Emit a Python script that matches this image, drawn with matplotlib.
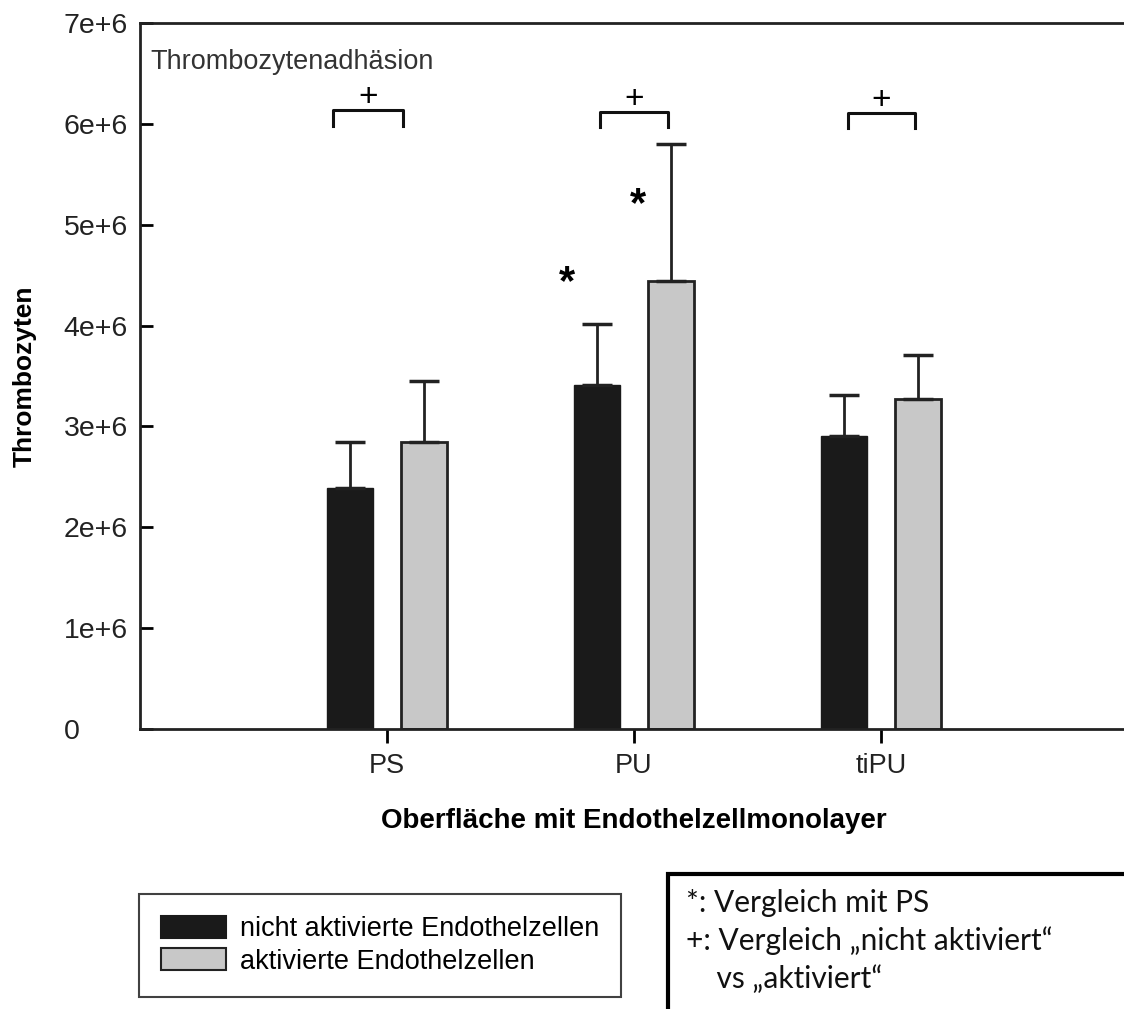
import numpy as np
import matplotlib
matplotlib.use('Agg')
import matplotlib.pyplot as plt
from matplotlib.patches import Patch, Rectangle

plt.rcParams['font.family'] = ['Liberation Sans', 'DejaVu Sans']

categories = ['PS', 'PU', 'tiPU']
nicht_akt = [2.39e6, 3.41e6, 2.91e6]
nicht_akt_err = [0.46e6, 0.61e6, 0.40e6]
aktiviert = [2.85e6, 4.44e6, 3.27e6]
aktiviert_err = [0.60e6, 1.36e6, 0.44e6]

# Klammern fuer "+" (x von, x bis, y oben, y unten)
brackets = [(0.78, 1.065, 6.14e6, 5.98e6),
            (1.862, 2.138, 6.12e6, 5.97e6),
            (2.866, 3.138, 6.11e6, 5.96e6)]
# Sternchen (Vergleich mit PS)
stars = [(1.73, 4.42e6), (2.016, 5.19e6)]

yticks = [0, 1e6, 2e6, 3e6, 4e6, 5e6, 6e6, 7e6]
ytlabels = ['0', '1e+6', '2e+6', '3e+6', '4e+6', '5e+6', '6e+6', '7e+6']

fig = plt.figure(figsize=(11.24, 10.09), dpi=100)
ax = fig.add_axes([140/1124, 1-729/1009, 988/1124, 706/1009])

x = np.arange(1, len(categories)+1)
w = 0.186
off = 0.15
ax.bar(x-off, nicht_akt, w, color='#1a1a1a', edgecolor='#1a1a1a', lw=1)
ax.bar(x+off, aktiviert, w, color='#c8c8c8', edgecolor='#222222', lw=2)
ax.errorbar(x-off, nicht_akt, yerr=[np.zeros(3), nicht_akt_err], fmt='none',
            ecolor='#222222', elinewidth=2, capsize=11, capthick=2.5)
ax.errorbar(x+off, aktiviert, yerr=[np.zeros(3), aktiviert_err], fmt='none',
            ecolor='#222222', elinewidth=2, capsize=11, capthick=2.5)

for x0, x1, yt, yb in brackets:
    ax.plot([x0, x0, x1, x1], [yb, yt, yt, yb], color='#111111', lw=2.2)
    ax.text((x0+x1)/2, yt+0.12e6, '+', ha='center', va='center', fontsize=24)
for sx, sy in stars:
    ax.text(sx, sy, '*', ha='center', va='center', fontsize=30, fontweight='bold')

ax.text(0.04, 6.61e6, 'Thrombozytenadhäsion', ha='left', va='center',
        fontsize=19.5, color='#333333')

ax.set_xlim(0, 4)
ax.set_ylim(0, 7e6)
ax.set_xticks(x)
ax.set_xticklabels(categories, fontsize=19.5, color='#222222')
ax.set_yticks(yticks)
ax.set_yticklabels(ytlabels, fontsize=20.5, color='#222222', ha='left')
ax.tick_params(axis='y', direction='in', length=9, width=2, pad=55)
ax.tick_params(axis='x', direction='out', length=10, width=2, pad=7)
for s in ax.spines.values():
    s.set_linewidth(2)
    s.set_color('#222222')

ax.set_ylabel('Thrombozyten', fontsize=19, fontweight='bold', labelpad=0)
ax.yaxis.set_label_coords(-0.105, 0.5)
ax.set_xlabel('Oberfläche mit Endothelzellmonolayer', fontsize=20,
              fontweight='bold', labelpad=21)

handles = [Patch(facecolor='#1a1a1a', edgecolor='#1a1a1a', lw=1.5),
           Patch(facecolor='#c8c8c8', edgecolor='#222222', lw=1.5)]
leg = fig.legend(handles, ['nicht aktivierte Endothelzellen', 'aktivierte Endothelzellen'],
                 loc='upper left', bbox_to_anchor=(139/1124, 1-894/1009),
                 fontsize=19.5, frameon=True, fancybox=False, edgecolor='#111111',
                 handlelength=2.4, handleheight=0.85, handletextpad=0.5,
                 labelspacing=0.22, borderpad=0.82, borderaxespad=0)
leg.get_frame().set_linewidth(1.5)

fig.patches.append(Rectangle((668/1124, -0.05), 0.5, 1-874/1009+0.05,
                             transform=fig.transFigure, fill=False,
                             edgecolor='black', lw=3))
notes = ['*: Vergleich mit PS', '+: Vergleich \u201enicht aktiviert\u201c',
         '    vs \u201eaktiviert\u201c']
for i, t in enumerate(notes):
    fig.text(686/1124, 1-(903+38*i)/1009, t, ha='left', va='center',
             fontsize=21.5, family=['Lato', 'DejaVu Sans'], color='#111111')

fig.savefig('out.png', dpi=100)
